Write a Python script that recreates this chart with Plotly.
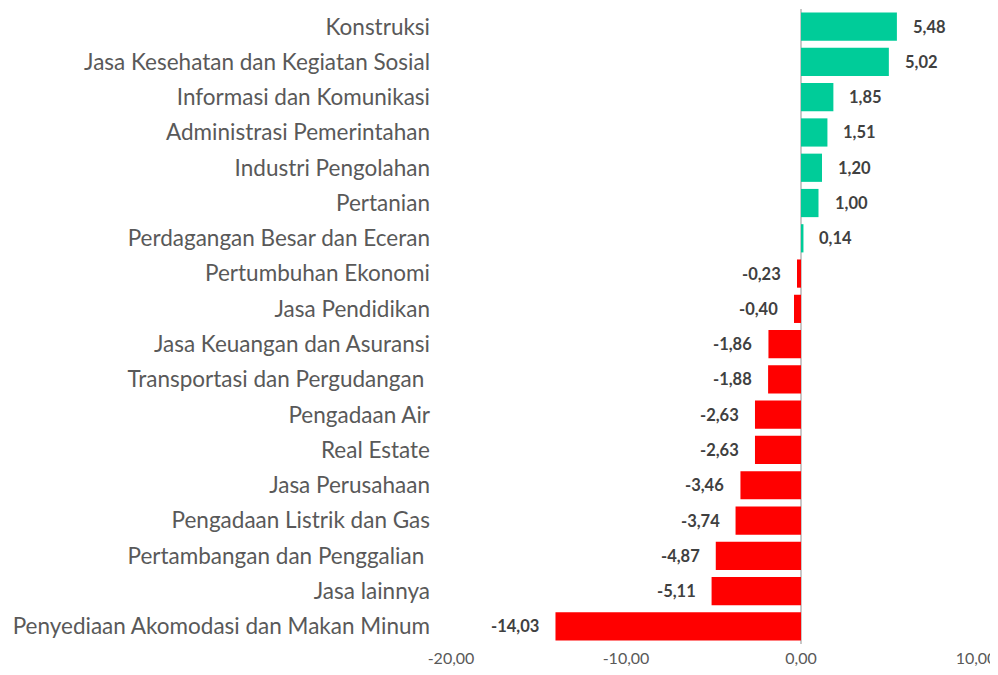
import plotly.graph_objects as go

categories = [
    "Konstruksi",
    "Jasa Kesehatan dan Kegiatan Sosial",
    "Informasi dan Komunikasi",
    "Administrasi Pemerintahan",
    "Industri Pengolahan",
    "Pertanian",
    "Perdagangan Besar dan Eceran",
    "Pertumbuhan Ekonomi",
    "Jasa Pendidikan",
    "Jasa Keuangan dan Asuransi",
    "Transportasi dan Pergudangan ",
    "Pengadaan Air",
    "Real Estate",
    "Jasa Perusahaan",
    "Pengadaan Listrik dan Gas",
    "Pertambangan dan Penggalian ",
    "Jasa lainnya",
    "Penyediaan Akomodasi dan Makan Minum",
]
values = [5.48, 5.02, 1.85, 1.51, 1.20, 1.00, 0.14, -0.23, -0.40, -1.86, -1.88,
          -2.63, -2.63, -3.46, -3.74, -4.87, -5.11, -14.03]
tick_vals = [-20, -10, 0, 10]
tick_text = ["-20,00", "-10,00", "0,00", "10,00"]

GREEN = "#00CC99"
RED = "#FF0000"
colors = [GREEN if v >= 0 else RED for v in values]

def fmt(v):
    return f"{v:.2f}".replace(".", ",")

fig = go.Figure()
fig.add_trace(go.Bar(
    x=values, y=categories, orientation="h",
    marker=dict(color=colors, line=dict(width=0)),
    hoverinfo="x+y",
))

for c, v in zip(categories, values):
    fig.add_annotation(
        x=v, y=c, text=fmt(v), showarrow=False,
        xanchor="left" if v >= 0 else "right",
        xshift=14 if v >= 0 else -14,
        font=dict(family="Lato, sans-serif", size=16.5, color="#404040", weight="bold"),
    )

# page body has an 8px margin; keep the figure inside the window (no scrollbars)
fig.update_layout(
    width=990, height=659,
    margin=dict(l=443, r=22, t=1, b=23, autoexpand=False),
    plot_bgcolor="white", paper_bgcolor="white",
    bargap=0.2,
    showlegend=False,
    font=dict(family="Lato, sans-serif", color="#595959"),
)
fig.update_xaxes(
    range=[-20, 10], tickvals=tick_vals, ticktext=tick_text,
    showgrid=False, zeroline=True, zerolinecolor="#C8C8C8", zerolinewidth=2,
    showline=False, ticks="", automargin=False, ticklabelstandoff=3,
    tickfont=dict(family="Lato, sans-serif", size=16, color="#595959"),
)
fig.update_yaxes(
    autorange="reversed", showgrid=False, showline=False, ticks="",
    automargin=False, ticklabelstandoff=20,
    tickfont=dict(family="Lato, sans-serif", size=22.5, color="#595959"),
)

fig.write_html("out.html")
